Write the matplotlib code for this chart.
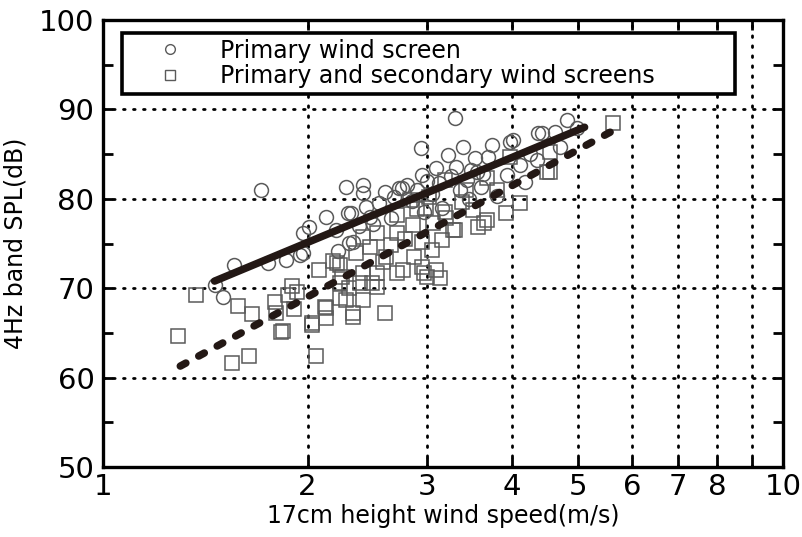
import matplotlib.pyplot as plt
from matplotlib.lines import Line2D

# wind speed (m/s) and 4 Hz band SPL (dB), primary wind screen only
primary_speed = [1.46, 1.50, 1.56, 1.71, 1.75, 1.86, 1.95, 1.97, 2.01, 1.97,
                 2.13, 2.28, 2.29, 2.30, 2.41, 2.41, 2.44, 2.32, 2.33, 2.73,
                 2.80, 2.95, 2.97, 3.29, 2.94, 3.22, 3.38, 3.52, 3.73, 3.68,
                 3.97, 3.09, 3.31, 2.75, 3.43, 3.93, 4.35, 4.36, 4.82, 4.42,
                 4.62, 4.01, 4.98, 4.70, 4.17, 2.55, 2.65, 2.85, 3.05, 3.15,
                 3.45, 3.60, 2.60, 3.00, 3.35, 3.80, 2.20, 2.50, 3.55, 4.10,
                 2.38, 2.68, 2.90, 3.12, 3.25, 3.48, 2.22, 2.47, 3.62, 4.25]
primary_spl = [70.4, 69.0, 72.6, 81.0, 72.8, 73.2, 73.7, 76.2, 76.8, 73.9,
               78.0, 81.3, 78.4, 75.1, 81.5, 80.6, 79.1, 78.4, 75.2, 81.2,
               81.5, 82.7, 78.5, 89.0, 85.7, 84.9, 85.8, 84.6, 86.0, 84.7,
               86.4, 83.4, 83.6, 81.2, 82.1, 82.7, 84.3, 87.4, 88.8, 87.4,
               87.5, 86.6, 87.9, 85.8, 81.9, 79.5, 77.8, 79.8, 80.5, 79.0,
               80.0, 81.3, 80.8, 82.0, 81.0, 80.3, 76.5, 77.2, 83.0, 83.8,
               77.0, 80.2, 81.0, 81.8, 82.6, 83.2, 74.2, 78.0, 82.8, 85.0]

# primary and secondary wind screens
double_speed = [1.37, 1.29, 1.58, 1.66, 1.55, 1.64, 1.79, 1.80, 1.84, 1.90,
                1.87, 1.91, 1.83, 2.03, 2.06, 2.13, 2.13, 2.33, 2.33, 2.60,
                2.23, 2.39, 2.49, 2.71, 2.08, 2.23, 2.41, 2.28, 2.41, 2.53,
                2.03, 2.12, 2.23, 2.53, 1.93, 3.56, 3.64, 3.29, 3.15, 4.10,
                3.92, 3.00, 3.13, 2.87, 2.95, 2.76, 3.05, 3.06, 3.18, 2.99,
                5.62, 3.67, 3.27, 3.09, 2.97, 3.67, 3.97, 4.50, 3.80, 3.37,
                3.18, 3.02, 2.83, 2.71, 2.41, 2.53, 2.36, 2.47, 2.21, 2.25,
                2.95, 2.86, 2.71, 2.61, 4.54, 4.55, 3.50, 2.18, 2.65, 2.78,
                2.90, 3.20, 3.42, 2.30, 2.58]
double_spl = [69.2, 64.7, 68.0, 67.1, 61.7, 62.4, 68.5, 67.2, 65.2, 70.2,
              69.2, 67.7, 65.1, 66.1, 62.4, 66.7, 67.8, 67.2, 66.8, 67.2,
              70.6, 70.6, 70.6, 71.7, 72.0, 72.6, 71.7, 68.7, 68.7, 71.7,
              65.9, 67.9, 68.9, 70.1, 69.6, 76.8, 77.3, 76.5, 75.4, 79.5,
              78.4, 71.3, 71.1, 73.5, 72.4, 72.0, 74.3, 77.3, 78.5, 79.0,
              88.5, 77.6, 76.5, 72.0, 71.7, 82.3, 84.7, 83.0, 81.0, 79.6,
              82.1, 80.2, 79.9, 78.2, 75.7, 76.2, 73.9, 74.6, 72.8, 71.3,
              75.2, 77.1, 76.2, 73.5, 83.0, 85.2, 78.8, 73.0, 74.8, 75.5,
              78.9, 77.9, 81.0, 70.0, 72.9]

# regression lines (end points)
fit_primary_x = [1.46, 5.11]
fit_primary_y = [70.8, 88.0]
fit_double_x = [1.30, 5.62]
fit_double_y = [61.3, 87.6]

x_ticks = [1, 2, 3, 4, 5, 6, 7, 8, 9, 10]
x_labels = ['1', '2', '3', '4', '5', '6', '7', '8', '', '10']
y_ticks = [50, 60, 70, 80, 90, 100]
legend_labels = ['Primary wind screen', 'Primary and secondary wind screens']

ink = '#231815'
mark = '#5a5a5a'

fig = plt.figure(figsize=(8.03, 5.37), dpi=100)
ax = fig.add_axes([0.128, 0.130, 0.847, 0.833])

ax.plot(primary_speed, primary_spl, 'o', ms=10, mfc='none', mec=mark, mew=1.1)
ax.plot(double_speed, double_spl, 's', ms=10.5, mfc='none', mec=mark, mew=1.1)

ax.plot(fit_primary_x, fit_primary_y, '-', color=ink, lw=5.4, solid_capstyle='round')
ax.plot(fit_double_x, fit_double_y, '--', color=ink, lw=5.4,
        dashes=(0.85, 1.95), dash_capstyle='round')

ax.set_xscale('log')
ax.set_xlim(1, 10)
ax.set_ylim(50, 100)
ax.set_xticks(x_ticks)
ax.set_xticklabels(x_labels)
ax.xaxis.set_minor_locator(plt.NullLocator())
ax.set_yticks(y_ticks)
ax.set_yticks(range(55, 100, 10), minor=True)

for lab in ax.get_xticklabels() + ax.get_yticklabels():
    lab.set_fontsize(21)

ax.tick_params(which='both', direction='in', top=True, right=True,
               width=2, length=7, pad=6)
ax.tick_params(axis='x', pad=4)

# dotted grid at the integer speeds and every 10 dB
for xv in x_ticks[1:-1]:
    ax.axvline(xv, color='k', lw=2, ls=(0, (0.6, 3.0)), dash_capstyle='round', zorder=0)
for yv in y_ticks[1:-1]:
    ax.axhline(yv, color='k', lw=2, ls=(0, (0.6, 3.0)), dash_capstyle='round', zorder=0)

for sp in ax.spines.values():
    sp.set_linewidth(2.4)

ax.set_xlabel('17cm height wind speed(m/s)', fontsize=17, labelpad=2)
ax.set_ylabel('4Hz band SPL(dB)', fontsize=17, labelpad=8)

handles = [
    Line2D([], [], ls='none', marker='o', ms=7, mfc='none', mec=mark, mew=1),
    Line2D([], [], ls='none', marker='s', ms=7, mfc='none', mec=mark, mew=1),
]
leg = ax.legend(handles, legend_labels, loc='upper left', mode='expand',
                bbox_to_anchor=(0.028, 0.821, 0.901, 0.15), borderaxespad=0,
                fontsize=17, frameon=True, fancybox=False, framealpha=1,
                edgecolor='k', handlelength=3.6, handletextpad=0.3,
                borderpad=0.25, labelspacing=0.05)
leg.get_frame().set_linewidth(2.6)
leg.set_zorder(5)

fig.savefig('out.png', dpi=100)
